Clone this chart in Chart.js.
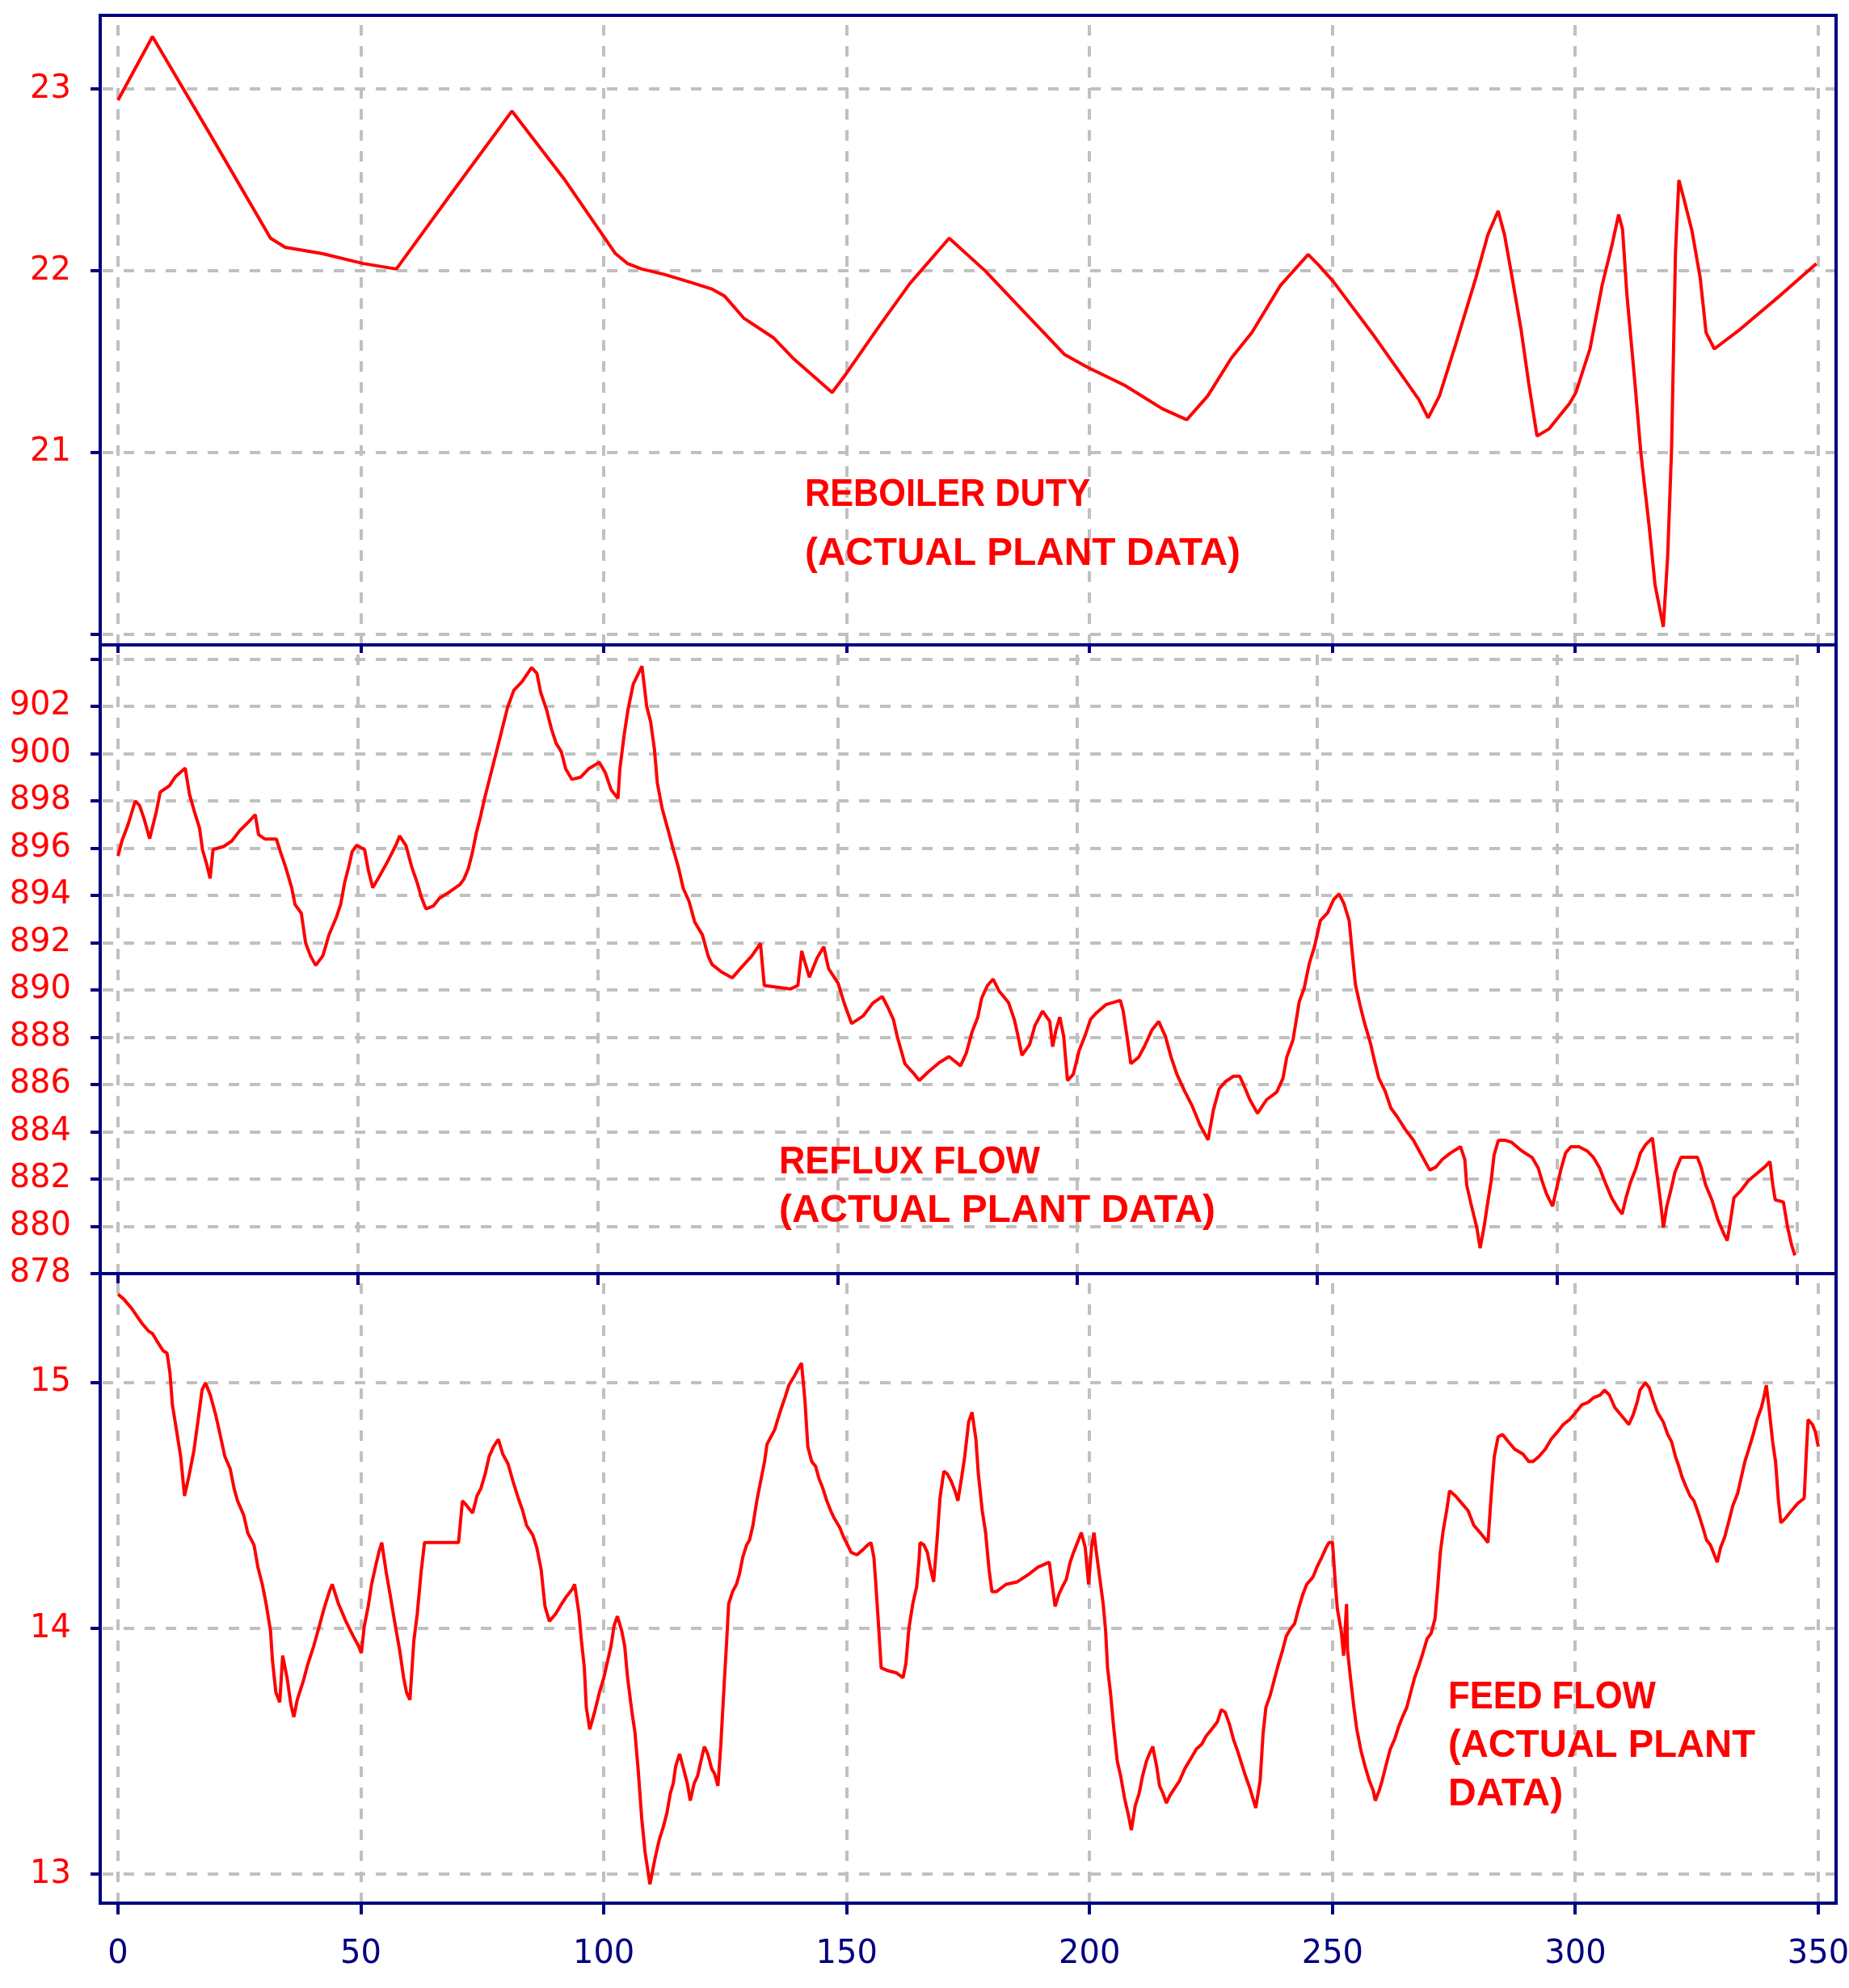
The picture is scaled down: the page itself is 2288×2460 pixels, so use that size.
<!DOCTYPE html>
<html>
<head>
<meta charset="utf-8">
<title>Reboiler duty, reflux flow and feed flow</title>
<script src="https://cdn.jsdelivr.net/npm/chart.js@4/dist/chart.umd.min.js"></script>
<style>
  html, body { margin: 0; padding: 0; background: #ffffff; }
  body { width: 2288px; height: 2460px; position: relative; overflow: hidden; }
  canvas { position: absolute; left: 0; }
</style>
</head>
<body>
<canvas id="dutyChart"   width="2288" height="840" style="top:0px;width:2288px;height:840px"></canvas>
<canvas id="refluxChart" width="2288" height="860" style="top:760px;width:2288px;height:860px"></canvas>
<canvas id="feedChart"   width="2288" height="920" style="top:1540px;width:2288px;height:920px"></canvas>
<script>
// ---- shared time axis ----
const timeTicks = [0, 50, 100, 150, 200, 250, 300, 350];
const timeTickLabels = ['0', '50', '100', '150', '200', '250', '300', '350'];

// ---- reboiler duty ----
const dutyTicks = [20, 21, 22, 23];
const dutyTickLabels = ['', '21', '22', '23'];
const dutyNote = ['REBOILER DUTY', '(ACTUAL PLANT DATA)'];
const dutyTime = [
  0, 7.1, 19, 31.4, 34.4, 42, 50.5, 57.3, 69, 81.1,
  92, 102.4, 104.9, 107.8, 112.5, 118.7, 122.2, 124.9, 128.8, 135,
  138.9, 143.6, 147, 149.8, 156.8, 163, 171.1, 178.5, 186.3, 194.8,
  199.5, 207.2, 215, 220, 224.3, 229.2, 233.4, 239.3, 245, 247.2,
  250.2, 258.6, 263.6, 267.8, 269.7, 272, 275.3, 279.5, 282, 284.1,
  285.4, 287, 288.8, 290.4, 292.1, 294.6, 298.8, 300.1, 303, 305.5,
  307.6, 308.9, 309.7, 310.6, 312.2, 313.5, 315.2, 316.4, 318.1, 319,
  319.8, 320.6, 321.3, 322.3, 324, 325.7, 326.9, 328.6, 334, 342.4,
  349.6
];
const dutyValue = [
  22.94, 23.29, 22.75, 22.18, 22.13, 22.095, 22.04, 22.01, 22.44, 22.88,
  22.5, 22.095, 22.04, 22.01, 21.98, 21.93, 21.90, 21.86, 21.74, 21.63,
  21.52, 21.41, 21.33, 21.43, 21.70, 21.93, 22.18, 22.00, 21.78, 21.54,
  21.47, 21.37, 21.24, 21.18, 21.31, 21.52, 21.66, 21.92, 22.09, 22.03,
  21.94, 21.64, 21.45, 21.29, 21.19, 21.31, 21.59, 21.96, 22.20, 22.33,
  22.20, 21.96, 21.68, 21.38, 21.09, 21.13, 21.27, 21.33, 21.57, 21.92,
  22.15, 22.31, 22.23, 21.87, 21.40, 20.99, 20.59, 20.27, 20.04, 20.43,
  21.02, 22.10, 22.50, 22.40, 22.22, 21.96, 21.66, 21.57, 21.68, 21.87,
  22.04
];

// ---- reflux flow ----
const refluxTicks = [878, 880, 882, 884, 886, 888, 890, 892, 894, 896, 898, 900, 902, 904];
const refluxTickLabels = ['878', '880', '882', '884', '886', '888', '890', '892', '894', '896', '898', '900', '902', ''];
const refluxNote = ['REFLUX FLOW', '(ACTUAL PLANT DATA)'];
const refluxTime = [
  0, 0.8, 2.1, 3.6, 4.5, 5.5, 6.6, 8.0, 8.8, 10.7,
  12.0, 14.0, 14.9, 15.9, 17.0, 17.6, 18.5, 19.2, 19.8, 22.0,
  23.7, 25.4, 27.2, 28.6, 29.3, 30.6, 33.0, 33.7, 34.9, 36.2,
  36.9, 38.2, 39.1, 40.1, 41.2, 42.7, 44.0, 45.5, 46.4, 47.2,
  48.1, 48.8, 49.7, 51.4, 52.2, 53.1, 54.4, 56.1, 57.9, 58.7,
  60.0, 61.2, 62.4, 63.3, 64.2, 65.7, 67.0, 69.1, 71.3, 72.1,
  73.0, 73.8, 74.7, 75.6, 76.4, 77.3, 78.2, 79.1, 80.1, 81.2,
  82.5, 84.2, 86.2, 87.3, 88.1, 89.3, 90.3, 91.3, 92.4, 93.3,
  94.6, 96.4, 98.1, 100.3, 101.6, 102.8, 104.2, 104.6, 105.5, 106.3,
  107.4, 109.2, 110.2, 111.0, 111.8, 112.4, 113.4, 114.6, 115.8, 116.8,
  117.8, 119.0, 120.2, 121.8, 123.0, 123.8, 125.8, 128.0, 129.7, 132.1,
  133.9, 134.7, 140.1, 141.7, 142.5, 143.3, 144.1, 145.7, 147.1, 148.1,
  150.1, 151.3, 152.9, 155.3, 157.3, 159.3, 160.4, 161.6, 162.4, 164.0,
  166.0, 167.0, 168.8, 171.2, 173.2, 175.6, 176.8, 178.0, 179.2, 180.0,
  181.2, 182.4, 183.6, 185.6, 186.8, 187.6, 188.4, 190.0, 191.1, 192.7,
  194.2, 194.8, 195.5, 196.3, 197.1, 197.9, 199.1, 200.3, 201.5, 202.7,
  203.9, 205.9, 208.9, 209.5, 210.3, 211.1, 212.7, 213.9, 215.5, 216.9,
  218.3, 219.5, 220.7, 222.3, 223.9, 225.5, 227.2, 228.3, 229.5, 230.8,
  232.5, 233.8, 234.7, 235.9, 237.5, 239.4, 241.5, 242.8, 243.6, 244.9,
  246.2, 247.2, 248.3, 249.4, 250.6, 252.1, 253.4, 254.5, 255.5, 256.6,
  257.2, 257.9, 258.9, 259.8, 261.1, 261.9, 262.8, 264.1, 265.3, 266.6,
  268.3, 270.0, 271.7, 273.4, 274.7, 276.0, 277.7, 279.8, 280.7, 281.1,
  281.9, 283.2, 283.9, 284.7, 285.5, 286.2, 286.8, 287.7, 289.2, 290.5,
  292.6, 294.7, 296.0, 296.8, 297.7, 299.0, 300.0, 300.7, 301.7, 302.8,
  304.5, 306.2, 307.5, 308.8, 310.0, 311.3, 312.6, 313.5, 314.3, 315.2,
  316.4, 317.3, 318.4, 319.8, 320.7, 321.5, 322.1, 322.8, 323.7, 324.5,
  325.8, 329.2, 330.0, 330.9, 332.2, 333.4, 334.7, 335.4, 336.0, 336.8,
  338.1, 339.8, 341.9, 343.2, 344.3, 344.9, 345.4, 347.1, 348.0, 348.8,
  349.5
];
const refluxValue = [
  895.67, 896.30, 897.00, 898.00, 897.80, 897.20, 896.40, 897.56, 898.37, 898.64,
  899.03, 899.39, 898.28, 897.56, 896.84, 895.94, 895.31, 894.72, 895.94, 896.07,
  896.30, 896.75, 897.11, 897.42, 896.57, 896.39, 896.39, 895.94, 895.22, 894.33,
  893.61, 893.25, 891.99, 891.45, 891.04, 891.45, 892.35, 893.07, 893.61, 894.51,
  895.22, 895.85, 896.12, 895.94, 895.04, 894.33, 894.78, 895.40, 896.12, 896.52,
  896.12, 895.22, 894.51, 893.88, 893.43, 893.55, 893.88, 894.15, 894.47, 894.69,
  895.13, 895.76, 896.66, 897.38, 898.10, 898.82, 899.54, 900.26, 901.07, 901.96,
  902.68, 903.04, 903.64, 903.40, 902.59, 901.87, 901.07, 900.44, 900.08, 899.36,
  898.91, 899.00, 899.36, 899.63, 899.18, 898.46, 898.10, 899.36, 900.80, 901.87,
  902.95, 903.70, 901.98, 901.36, 900.19, 898.77, 897.69, 896.80, 895.90, 895.19,
  894.30, 893.76, 892.87, 892.33, 891.44, 891.08, 890.76, 890.51, 890.90, 891.44,
  891.97, 890.19, 890.04, 890.19, 891.65, 891.08, 890.54, 891.35, 891.83, 890.90,
  890.28, 889.47, 888.58, 888.90, 889.44, 889.72, 889.29, 888.76, 888.04, 886.88,
  886.43, 886.17, 886.52, 886.93, 887.18, 886.79, 887.33, 888.22, 888.85, 889.65,
  890.19, 890.46, 889.97, 889.47, 888.76, 888.04, 887.24, 887.69, 888.49, 889.11,
  888.67, 887.60, 888.31, 888.85, 888.04, 886.17, 886.43, 887.42, 888.04, 888.76,
  889.03, 889.38, 889.56, 889.11, 888.04, 886.88, 887.15, 887.60, 888.31, 888.67,
  888.04, 887.15, 886.43, 885.72, 885.09, 884.29, 883.66, 884.92, 885.81, 886.12,
  886.35, 886.35, 885.94, 885.36, 884.78, 885.36, 885.68, 886.26, 887.16, 887.89,
  889.51, 890.05, 891.13, 891.85, 892.94, 893.26, 893.84, 894.06, 893.66, 892.94,
  891.67, 890.23, 889.33, 888.61, 887.70, 886.98, 886.26, 885.72, 885.00, 884.64,
  884.10, 883.64, 883.01, 882.38, 882.51, 882.83, 883.10, 883.37, 882.83, 881.75,
  881.03, 879.95, 879.08, 879.95, 881.03, 881.93, 883.01, 883.64, 883.64, 883.55,
  883.19, 882.92, 882.47, 881.93, 881.39, 880.85, 881.75, 882.38, 883.10, 883.37,
  883.37, 883.19, 882.92, 882.47, 881.84, 881.21, 880.76, 880.52, 881.21, 881.84,
  882.47, 883.10, 883.46, 883.74, 882.29, 881.03, 879.95, 880.85, 881.57, 882.29,
  882.92, 882.92, 882.47, 881.75, 881.12, 880.31, 879.68, 879.40, 880.13, 881.21,
  881.48, 881.93, 882.29, 882.51, 882.74, 881.75, 881.12, 881.03, 879.95, 879.22,
  878.77
];

// ---- feed flow ----
const feedTicks = [13, 14, 15];
const feedTickLabels = ['13', '14', '15'];
const feedNote = ['FEED FLOW', '(ACTUAL PLANT', 'DATA)'];
const feedTime = [
  0, 1.2, 2.9, 5.0, 6.3, 7.1, 8.0, 9.3, 10.1, 10.7,
  11.2, 12.1, 12.9, 13.7, 14.6, 15.6, 16.5, 17.3, 18.0, 19.0,
  20.1, 20.9, 22.0, 23.1, 23.9, 24.6, 25.9, 26.7, 28.0, 28.8,
  29.7, 30.5, 31.4, 31.8, 32.5, 33.3, 33.9, 34.8, 35.6, 36.2,
  36.9, 38.2, 39.0, 40.3, 41.3, 42.4, 43.5, 44.1, 45.4, 46.9,
  48.4, 49.5, 50.1, 50.7, 51.5, 52.2, 53.1, 53.7, 54.3, 55.2,
  56.0, 57.1, 58.0, 58.8, 59.4, 60.1, 60.9, 61.6, 62.4, 63.1,
  70.1, 70.9, 71.8, 73.0, 73.9, 74.7, 75.6, 76.4, 77.3, 78.3,
  79.2, 80.3, 81.3, 82.4, 83.3, 84.1, 85.4, 86.2, 87.1, 87.9,
  88.8, 90.1, 91.3, 92.3, 93.5, 94.0, 94.9, 95.4, 96.0, 96.4,
  97.1, 98.1, 99.1, 100.0, 100.7, 101.5, 102.1, 102.8, 103.7, 104.3,
  104.9, 105.8, 106.4, 107.1, 107.8, 108.5, 109.5, 110.6, 111.4, 112.2,
  113.0, 113.7, 114.3, 114.8, 115.6, 116.4, 117.2, 117.8, 118.6, 119.3,
  120.1, 120.7, 121.4, 122.2, 122.8, 123.5, 124.1, 124.8, 125.3, 125.7,
  126.5, 127.3, 127.9, 128.6, 129.4, 130.0, 130.7, 131.5, 132.3, 133.1,
  133.6, 134.4, 135.2, 135.8, 136.6, 137.3, 138.1, 139.3, 140.1, 140.7,
  141.4, 142.0, 142.8, 143.6, 144.3, 145.1, 145.9, 146.7, 147.4, 148.6,
  149.4, 150.2, 150.9, 152.1, 153.3, 154.3, 155.0, 155.6, 156.0, 156.6,
  157.1, 158.3, 160.2, 161.6, 162.2, 162.8, 163.6, 164.4, 164.9, 165.1,
  165.9, 166.6, 167.2, 167.9, 168.6, 169.2, 170.0, 170.7, 171.5, 172.3,
  172.9, 173.7, 174.3, 175.1, 175.8, 176.6, 177.1, 177.9, 178.6, 179.3,
  179.9, 180.8, 182.8, 185.1, 187.4, 189.4, 191.7, 192.3, 192.9, 193.7,
  194.4, 195.2, 196.0, 196.7, 197.5, 198.3, 199.1, 199.8, 200.4, 200.9,
  201.4, 202.2, 202.8, 203.3, 203.7, 204.3, 204.9, 205.7, 206.4, 207.2,
  208.0, 208.6, 209.4, 210.2, 210.9, 211.7, 212.3, 213.0, 213.8, 214.4,
  215.1, 215.8, 216.5, 217.5, 218.5, 219.6, 220.8, 222.0, 223.1, 223.9,
  225.1, 226.3, 227.1, 227.9, 228.8, 229.6, 230.5, 231.3, 232.1, 233.0,
  233.6, 234.2, 235.1, 235.7, 236.3, 237.2, 238.0, 238.8, 239.7, 240.5,
  241.4, 242.2, 243.0, 243.9, 244.7, 246.0, 246.8, 247.8, 248.7, 249.3,
  250.0, 250.6, 251.0, 251.8, 252.3, 252.9, 253.1, 253.7, 254.4, 255.0,
  255.9, 256.7, 257.6, 258.4, 258.8, 259.6, 260.2, 261.1, 261.9, 262.8,
  263.6, 264.4, 265.3, 266.1, 266.9, 267.8, 268.6, 269.5, 270.3, 271.1,
  271.7, 272.2, 272.8, 273.5, 274.1, 275.3, 276.6, 277.9, 279.1, 280.4,
  282.0, 282.7, 283.3, 284.1, 285.0, 286.2, 287.5, 289.2, 290.4, 291.3,
  292.5, 293.8, 295.0, 296.3, 297.5, 298.8, 300.1, 301.3, 302.6, 303.8,
  305.1, 306.0, 307.0, 308.1, 308.9, 310.2, 311.0, 311.9, 312.7, 313.3,
  314.4, 315.2, 316.0, 316.9, 318.1, 319.0, 319.8, 320.6, 321.3, 321.9,
  322.7, 323.6, 324.4, 325.3, 326.1, 327.0, 327.8, 328.6, 329.2, 329.9,
  330.7, 331.5, 332.4, 333.4, 334.2, 334.9, 335.7, 336.6, 337.4, 338.3,
  338.9, 339.3, 339.9, 340.6, 341.2, 341.8, 342.3, 343.3, 344.5, 345.8,
  347.1, 347.5, 347.9, 348.8, 349.4, 350.0
];
const feedValue = [
  15.36, 15.34, 15.30, 15.24, 15.21, 15.20, 15.17, 15.13, 15.12, 15.04,
  14.91, 14.80, 14.70, 14.54, 14.62, 14.72, 14.85, 14.97, 15.00, 14.95,
  14.87, 14.80, 14.70, 14.65, 14.57, 14.52, 14.46, 14.39, 14.34, 14.25,
  14.18, 14.10, 13.99, 13.87, 13.74, 13.70, 13.89, 13.80, 13.69, 13.64,
  13.71, 13.79, 13.85, 13.93, 14.00, 14.08, 14.15, 14.18, 14.10, 14.03,
  13.97, 13.93, 13.90, 14.01, 14.09, 14.18, 14.26, 14.31, 14.35, 14.23,
  14.14, 14.01, 13.91, 13.80, 13.74, 13.71, 13.95, 14.06, 14.23, 14.35,
  14.35, 14.52, 14.50, 14.47, 14.54, 14.57, 14.63, 14.70, 14.74, 14.77,
  14.71, 14.67, 14.60, 14.53, 14.48, 14.42, 14.38, 14.33, 14.24, 14.09,
  14.03, 14.06, 14.10, 14.13, 14.16, 14.18, 14.06, 13.95, 13.84, 13.68,
  13.59, 13.66, 13.74, 13.80, 13.86, 13.93, 14.01, 14.05, 13.99, 13.93,
  13.80, 13.66, 13.58, 13.42, 13.23, 13.09, 12.96, 13.07, 13.14, 13.19,
  13.25, 13.33, 13.37, 13.44, 13.49, 13.43, 13.37, 13.30, 13.37, 13.40,
  13.47, 13.52, 13.49, 13.43, 13.41, 13.36, 13.53, 13.78, 13.95, 14.10,
  14.15, 14.18, 14.22, 14.29, 14.34, 14.36, 14.42, 14.52, 14.60, 14.68,
  14.75, 14.78, 14.81, 14.85, 14.90, 14.94, 14.99, 15.03, 15.06, 15.08,
  14.93, 14.74, 14.68, 14.66, 14.61, 14.57, 14.52, 14.48, 14.45, 14.41,
  14.37, 14.34, 14.31, 14.30, 14.32, 14.34, 14.35, 14.29, 14.18, 14.00,
  13.84, 13.83, 13.82, 13.80, 13.86, 14.00, 14.10, 14.17, 14.28, 14.35,
  14.34, 14.31, 14.25, 14.19, 14.36, 14.53, 14.64, 14.63, 14.60, 14.56,
  14.52, 14.62, 14.70, 14.84, 14.88, 14.77, 14.63, 14.48, 14.39, 14.24,
  14.15, 14.15, 14.18, 14.19, 14.22, 14.25, 14.27, 14.18, 14.09, 14.14,
  14.17, 14.20, 14.27, 14.31, 14.35, 14.39, 14.33, 14.18, 14.33, 14.39,
  14.31, 14.19, 14.10, 13.99, 13.84, 13.74, 13.61, 13.46, 13.40, 13.31,
  13.24, 13.18, 13.28, 13.33, 13.40, 13.46, 13.49, 13.52, 13.44, 13.36,
  13.33, 13.29, 13.32, 13.35, 13.38, 13.43, 13.47, 13.51, 13.53, 13.56,
  13.59, 13.62, 13.67, 13.66, 13.61, 13.55, 13.50, 13.45, 13.40, 13.35,
  13.31, 13.27, 13.38, 13.57, 13.68, 13.73, 13.79, 13.85, 13.91, 13.97,
  14.00, 14.02, 14.08, 14.14, 14.18, 14.21, 14.25, 14.29, 14.33, 14.35,
  14.35, 14.18, 14.08, 13.99, 13.89, 14.10, 13.91, 13.80, 13.68, 13.59,
  13.50, 13.44, 13.38, 13.34, 13.30, 13.34, 13.38, 13.45, 13.51, 13.55,
  13.60, 13.64, 13.68, 13.74, 13.80, 13.85, 13.90, 13.96, 13.98, 14.04,
  14.18, 14.31, 14.40, 14.48, 14.56, 14.54, 14.51, 14.48, 14.42, 14.39,
  14.35, 14.55, 14.70, 14.78, 14.79, 14.76, 14.73, 14.71, 14.68, 14.68,
  14.70, 14.73, 14.77, 14.80, 14.83, 14.85, 14.88, 14.91, 14.92, 14.94,
  14.95, 14.97, 14.95, 14.90, 14.88, 14.85, 14.83, 14.87, 14.92, 14.97,
  15.00, 14.98, 14.93, 14.88, 14.84, 14.79, 14.76, 14.70, 14.66, 14.62,
  14.58, 14.54, 14.52, 14.47, 14.42, 14.36, 14.34, 14.30, 14.27, 14.33,
  14.37, 14.43, 14.50, 14.55, 14.62, 14.68, 14.73, 14.79, 14.85, 14.90,
  14.95, 14.99, 14.89, 14.76, 14.68, 14.52, 14.43, 14.45, 14.48, 14.51,
  14.53, 14.70, 14.85, 14.83, 14.80, 14.74
];

// ---- look ----
const NAVY = '#000080';
const RED = '#ff0000';
const GRID = '#c0c0c0';
const TICK_FONT = { family: '"DejaVu Sans", Verdana, sans-serif', size: 40 };
const NOTE_FONT = 'bold 48px "Liberation Sans", Arial, sans-serif';

// Navy frame round each plot area, plus the red captions inside it.
const panelFrame = {
  id: 'panelFrame',
  afterDraw(chart, args, opts) {
    const { ctx, chartArea: a } = chart;
    ctx.save();
    ctx.strokeStyle = NAVY;
    ctx.lineWidth = 4;
    const right = a.right + (opts.extendRight || 0);
    ctx.strokeRect(a.left, a.top, right - a.left, a.bottom - a.top);
    ctx.fillStyle = RED;
    ctx.font = NOTE_FONT;
    ctx.textAlign = 'left';
    ctx.textBaseline = 'alphabetic';
    (opts.notes || []).forEach(n => ctx.fillText(n.text, n.x, n.y, n.width));
    ctx.restore();
  }
};

function toPoints(xs, ys) {
  return xs.map((t, i) => ({ x: t, y: ys[i] }));
}

function buildPanel(canvasId, p) {
  return new Chart(document.getElementById(canvasId), {
    type: 'line',
    data: {
      datasets: [{
        data: toPoints(p.time, p.value),
        borderColor: RED,
        borderWidth: 4,
        borderJoinStyle: 'bevel',
        pointRadius: 0,
        tension: 0,
        fill: false
      }]
    },
    options: {
      responsive: false,
      animation: false,
      devicePixelRatio: 1,
      layout: { padding: p.padding },
      plugins: {
        legend: { display: false },
        tooltip: { enabled: false },
        panelFrame: { extendRight: p.extendRight || 0, notes: p.notes }
      },
      scales: {
        x: {
          type: 'linear',
          min: p.xMin,
          max: p.xMax,
          afterBuildTicks: s => { s.ticks = timeTicks.map(v => ({ value: v })); },
          afterFit: s => {
            s.height = p.xAxisHeight;
            s.paddingLeft = 0; s.paddingRight = 0; s.paddingTop = 0; s.paddingBottom = 0;
          },
          grid: {
            color: GRID, lineWidth: 4,
            tickColor: NAVY, tickWidth: 4, tickLength: p.xTickLength, tickBorderDash: []
          },
          border: { display: false, dash: [13, 13], dashOffset: 14 },
          ticks: {
            display: p.showTimeLabels,
            autoSkip: false,
            maxRotation: 0,
            color: NAVY,
            font: TICK_FONT,
            padding: 26,
            callback: (v, i) => timeTickLabels[i]
          }
        },
        y: {
          type: 'linear',
          min: p.yMin,
          max: p.yMax,
          afterBuildTicks: s => { s.ticks = p.yTicks.map(v => ({ value: v })); },
          afterFit: s => {
            s.width = 124;
            s.paddingLeft = 0; s.paddingRight = 0; s.paddingTop = 0; s.paddingBottom = 0;
          },
          grid: {
            color: GRID, lineWidth: 4,
            tickColor: NAVY, tickWidth: 4, tickLength: 12, tickBorderDash: []
          },
          border: { display: false, dash: [13, 13], dashOffset: 23 },
          ticks: {
            autoSkip: false,
            color: RED,
            font: TICK_FONT,
            padding: 24,
            callback: (v, i) => p.yLabels[i]
          }
        }
      }
    },
    plugins: [panelFrame]
  });
}

// Top panel: reboiler duty
buildPanel('dutyChart', {
  time: dutyTime, value: dutyValue,
  xMin: -3.66, xMax: 353.66, yMin: 19.94, yMax: 23.407,
  yTicks: dutyTicks, yLabels: dutyTickLabels,
  padding: { top: 19, right: 16, bottom: 0, left: 0 },
  xAxisHeight: 42, xTickLength: 10, showTimeLabels: false,
  notes: [
    { text: dutyNote[0], x: 996, y: 626, width: 353 },
    { text: dutyNote[1], x: 996, y: 699, width: 539 }
  ]
});

// Middle panel: reflux flow
buildPanel('refluxChart', {
  time: refluxTime, value: refluxValue,
  xMin: -3.71, xMax: 350, yMin: 878, yMax: 904.6,
  yTicks: refluxTicks, yLabels: refluxTickLabels,
  padding: { top: 38, right: 64, bottom: 0, left: 0 },
  extendRight: 48,
  xAxisHeight: 44, xTickLength: 14, showTimeLabels: false,
  notes: [
    { text: refluxNote[0], x: 964, y: 692, width: 323 },
    { text: refluxNote[1], x: 964, y: 752, width: 540 }
  ]
});

// Bottom panel: feed flow, carries the time labels
buildPanel('feedChart', {
  time: feedTime, value: feedValue,
  xMin: -3.66, xMax: 353.66, yMin: 12.883, yMax: 15.444,
  yTicks: feedTicks, yLabels: feedTickLabels,
  padding: { top: 36, right: 16, bottom: 0, left: 0 },
  xAxisHeight: 105, xTickLength: 14, showTimeLabels: true,
  notes: [
    { text: feedNote[0], x: 1792, y: 574, width: 257 },
    { text: feedNote[1], x: 1792, y: 634, width: 380 },
    { text: feedNote[2], x: 1792, y: 694, width: 143 }
  ]
});
</script>
</body>
</html>
